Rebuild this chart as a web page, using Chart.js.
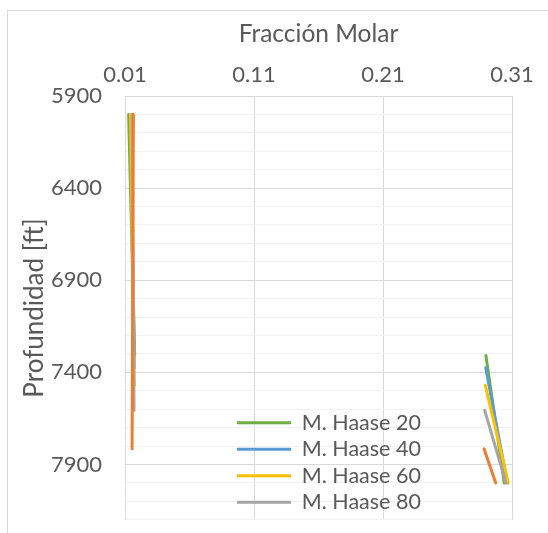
<!DOCTYPE html>
<html>
<head>
<meta charset="utf-8">
<script src="https://cdn.jsdelivr.net/npm/chart.js@4.4.1/dist/chart.umd.min.js"></script>
<style>
  html, body { margin: 0; padding: 0; background: #ffffff; }
  #wrap { position: relative; width: 548px; height: 533px; }
</style>
</head>
<body>
<div id="wrap"><canvas id="c" width="548" height="533"></canvas></div>
<script>
// ---- Data ----
const seriesNames = ['M. Haase 20', 'M. Haase 40', 'M. Haase 60', 'M. Haase 80', 'Serie 5'];
// Fracción molar (x) per series; null separates the two segments
const fracHaase20 = [0.0128, 0.0175, null, 0.2898, 0.3040];
const fracHaase40 = [0.0148, 0.0172, null, 0.2896, 0.3064];
const fracHaase60 = [0.0142, 0.0172, null, 0.2893, 0.3071];
const fracHaase80 = [0.0155, 0.0170, null, 0.2888, 0.3053];
const fracSerie5  = [0.0165, 0.0155, null, 0.2883, 0.2974];
// Profundidad [ft] (y) per series
const depthHaase20 = [6000, 7309, null, 7309, 8000];
const depthHaase40 = [6000, 7375, null, 7375, 8000];
const depthHaase60 = [6000, 7470, null, 7470, 8000];
const depthHaase80 = [6000, 7605, null, 7605, 8000];
const depthSerie5  = [6000, 7815, null, 7815, 8000];
// Tick values
const xTickValues = [0.01, 0.11, 0.21, 0.31];
const yTickValues = [5900, 6000, 6100, 6200, 6300, 6400, 6500, 6600, 6700, 6800, 6900, 7000,
                     7100, 7200, 7300, 7400, 7500, 7600, 7700, 7800, 7900, 8000, 8100, 8200];
const yLabelValues = [5900, 6400, 6900, 7400, 7900];

const colors = ['#70AD47', '#5B9BD5', '#FFC000', '#A5A5A5', '#ED7D31'];
const fracs = [fracHaase20, fracHaase40, fracHaase60, fracHaase80, fracSerie5];
const depths = [depthHaase20, depthHaase40, depthHaase60, depthHaase80, depthSerie5];
const drawOrder = [5, 4, 3, 2, 1];

const datasets = seriesNames.map((name, i) => ({
  label: name,
  data: fracs[i].map((x, k) => ({ x: x === null ? NaN : x, y: depths[i][k] === null ? NaN : depths[i][k] })),
  showLine: true,
  spanGaps: false,
  borderColor: colors[i],
  backgroundColor: colors[i],
  borderWidth: 3,
  borderCapStyle: 'round',
  pointRadius: 0,
  pointHoverRadius: 0,
  order: drawOrder[i]
}));

const FONT = 'Lato';
const TXT = '#595959';
const GRID_MAJOR = '#D9D9D9';
const GRID_MINOR = '#F2F2F2';

const frame = {
  id: 'frame',
  beforeDraw(chart) {
    const ctx = chart.ctx;
    ctx.save();
    ctx.strokeStyle = '#D9D9D9';
    ctx.lineWidth = 1;
    ctx.strokeRect(7.5, 10.5, 800, 800);
    ctx.restore();
  }
};

const legendPlace = {
  id: 'legendPlace',
  afterLayout(chart) {
    const lg = chart.legend;
    if (!lg) return;
    const w = lg.width, h = lg.height;
    lg.left = 232; lg.right = 232 + w;
    lg.top = 407; lg.bottom = 407 + h;
  }
};

Chart.defaults.font.family = FONT;
Chart.defaults.color = TXT;

new Chart(document.getElementById('c'), {
  type: 'scatter',
  data: { datasets },
  plugins: [frame, legendPlace],
  options: {
    responsive: false,
    animation: false,
    events: [],
    layout: { padding: { left: 0, top: 0, right: 36, bottom: 12 } },
    plugins: {
      tooltip: { enabled: false },
      title: { display: false },
      legend: {
        display: true,
        position: 'chartArea',
        align: 'start',
        labels: {
          usePointStyle: true,
          pointStyle: 'line',
          pointStyleWidth: 54,
          padding: 5,
          color: TXT,
          font: { family: FONT, size: 21.5 },
          filter: (item) => item.datasetIndex < 4,
          sort: (a, b) => a.datasetIndex - b.datasetIndex
        }
      }
    },
    scales: {
      x: {
        type: 'linear',
        position: 'top',
        min: 0.01,
        max: 0.31,
        afterBuildTicks: (s) => { s.ticks = xTickValues.map(v => ({ value: v })); },
        afterFit: (s) => { s.height = 96; },
        ticks: {
          padding: 8,
          color: TXT,
          font: { family: FONT, size: 22 },
          maxRotation: 0,
          callback: (v) => Number(v).toFixed(2)
        },
        grid: { color: GRID_MAJOR, lineWidth: 1, drawTicks: false },
        border: { display: true, color: GRID_MAJOR },
        title: {
          display: true,
          text: 'Fracción Molar',
          color: TXT,
          font: { family: FONT, size: 24.5 },
          padding: { top: 19, bottom: 0 }
        }
      },
      y: {
        type: 'linear',
        position: 'left',
        reverse: true,
        min: 5900,
        max: 8200,
        afterBuildTicks: (s) => { s.ticks = yTickValues.map(v => ({ value: v })); },
        afterFit: (s) => { s.width = 125; },
        ticks: {
          padding: 0,
          color: TXT,
          font: { family: FONT, size: 22 },
          autoSkip: false,
          callback: (v) => (yLabelValues.includes(v) ? String(v) : '')
        },
        grid: {
          drawTicks: true,
          tickLength: 23,
          tickColor: 'rgba(0,0,0,0)',
          lineWidth: 1,
          color: (ctx) => (ctx.tick && yLabelValues.includes(ctx.tick.value) ? GRID_MAJOR : GRID_MINOR)
        },
        border: { display: true, color: GRID_MAJOR },
        title: {
          display: true,
          text: 'Profundidad [ft]',
          color: TXT,
          font: { family: FONT, size: 26 },
          padding: { top: 19, bottom: 0 }
        }
      }
    }
  }
});
</script>
</body>
</html>
